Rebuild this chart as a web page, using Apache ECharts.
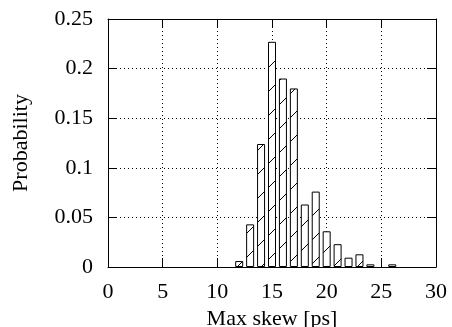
<!DOCTYPE html>
<html><head><meta charset="utf-8">
<script src="https://cdn.jsdelivr.net/npm/echarts@6/dist/echarts.min.js"></script>
<style>html,body{margin:0;padding:0;background:#fff}#c{width:452px;height:327px}</style>
</head><body><div id="c"></div>
<script>
var skew = [12, 13, 14, 15, 16, 17, 18, 19, 20, 21, 22, 23, 24, 26];
var probability = [0.006, 0.043, 0.124, 0.227, 0.190, 0.180, 0.063, 0.076, 0.036, 0.023, 0.0094, 0.0128, 0.0027, 0.0027];
var xTicks = [0, 5, 10, 15, 20, 25, 30];
var yTicks = [0, 0.05, 0.1, 0.15, 0.2, 0.25];

var pc = document.createElement('canvas');
pc.width = 24; pc.height = 24;
var g = pc.getContext('2d');
g.fillStyle = '#fff'; g.fillRect(0, 0, 24, 24);
g.strokeStyle = '#000'; g.lineWidth = 1;
g.beginPath();
g.moveTo(-2, 26); g.lineTo(26, -2);
g.stroke();

var font = 'Liberation Serif';
var fs = 22;
var chart = echarts.init(document.getElementById('c'), null, {renderer: 'canvas'});
var data = skew.map(function (s, i) { return [s, probability[i]]; });
var tickInside = {show: true, inside: true, length: 9, lineStyle: {color: '#000', width: 1}};
chart.setOption({
  animation: false,
  backgroundColor: '#fff',
  grid: {left: 108, right: 16, top: 19, bottom: 60, containLabel: false, outerBoundsMode: 'none'},
  xAxis: [{
    type: 'value', min: xTicks[0], max: xTicks[xTicks.length - 1], interval: 5,
    name: 'Max skew [ps]', nameLocation: 'middle', nameGap: 35,
    nameTextStyle: {fontFamily: font, fontSize: fs, color: '#000'},
    axisLine: {show: true, lineStyle: {color: '#000', width: 1}},
    axisTick: tickInside,
    axisLabel: {fontFamily: font, fontSize: fs, color: '#000', margin: 14},
    splitLine: {show: true, lineStyle: {color: '#000', type: [1, 3], width: 1}}
  }, {
    type: 'value', position: 'top', min: xTicks[0], max: xTicks[xTicks.length - 1], interval: 5,
    axisLine: {show: true, onZero: false, lineStyle: {color: '#000', width: 1}},
    axisTick: tickInside, axisLabel: {show: false}, splitLine: {show: false}
  }],
  yAxis: [{
    type: 'value', min: yTicks[0], max: yTicks[yTicks.length - 1], interval: 0.05,
    name: 'Probability', nameLocation: 'middle', nameGap: 76,
    nameTextStyle: {fontFamily: font, fontSize: fs, color: '#000'},
    axisLine: {show: true, lineStyle: {color: '#000', width: 1}},
    axisTick: tickInside,
    axisLabel: {fontFamily: font, fontSize: fs, color: '#000', margin: 15},
    splitLine: {show: true, lineStyle: {color: '#000', type: [1, 3], width: 1}}
  }, {
    type: 'value', position: 'right', min: yTicks[0], max: yTicks[yTicks.length - 1], interval: 0.05,
    axisLine: {show: true, onZero: false, lineStyle: {color: '#000', width: 1}},
    axisTick: tickInside, axisLabel: {show: false}, splitLine: {show: false}
  }],
  series: [{
    type: 'bar', xAxisIndex: 0, yAxisIndex: 0,
    data: data, barWidth: 8,
    itemStyle: {color: {image: pc, repeat: 'repeat'}, borderColor: '#000', borderWidth: 1},
    z: 3
  }]
});
</script></body></html>
